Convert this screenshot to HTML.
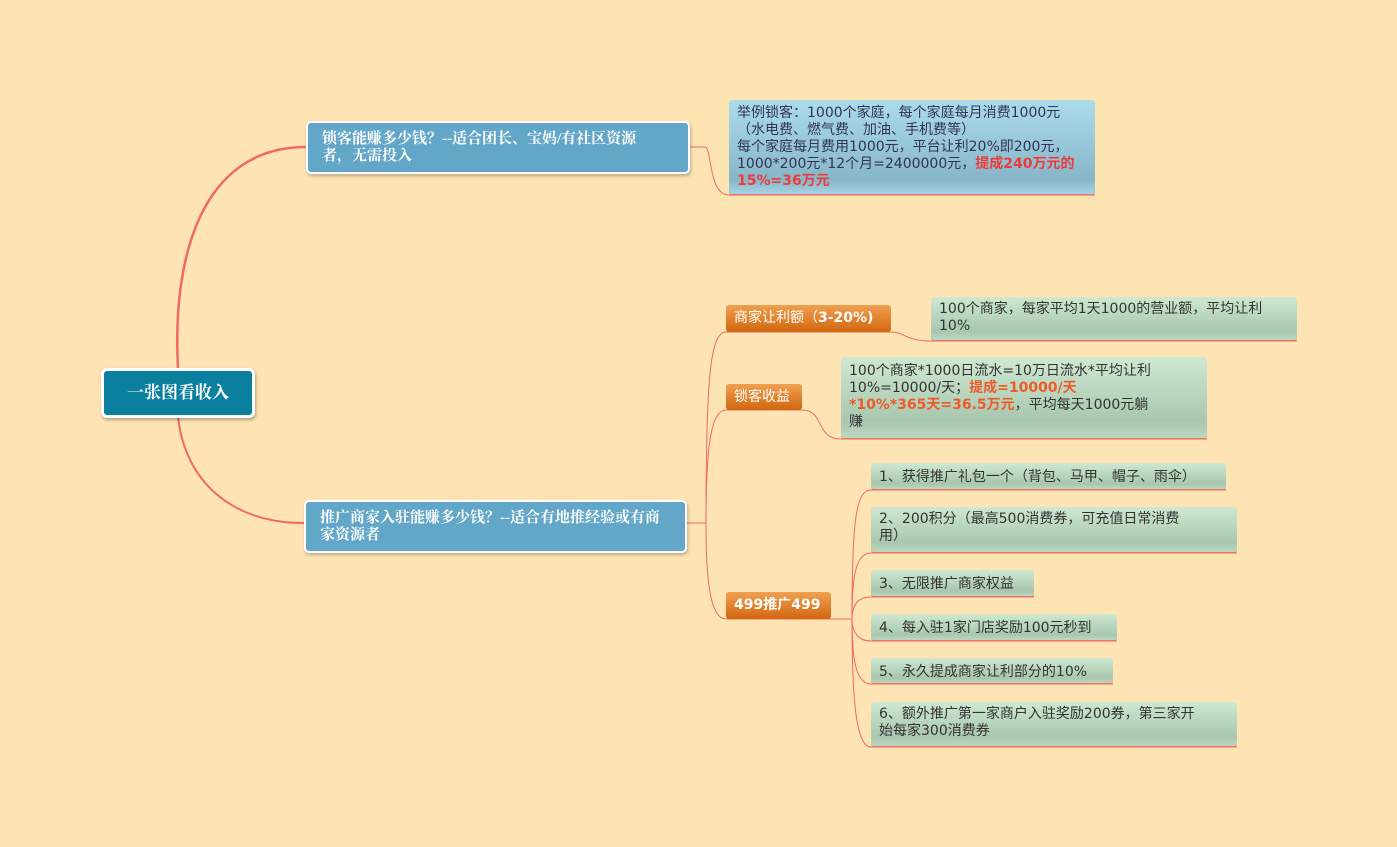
<!DOCTYPE html>
<html><head><meta charset="utf-8"><style>
body{margin:0;width:1397px;height:847px;background:#fee4b3;position:relative;overflow:hidden;font-family:"DejaVu Sans","Noto Sans CJK SC",sans-serif;}
.n{position:absolute;box-sizing:border-box;white-space:nowrap;overflow:hidden;}
.root{left:101px;top:368px;width:154px;height:50px;background:#0b7f9e;border:3px solid #fff;border-radius:6px;color:#fff;font-size:17px;font-weight:bold;text-align:center;line-height:44px;box-shadow:1px 2px 3px rgba(0,0,0,.3);font-family:"Liberation Serif","Noto Serif CJK SC",serif;}
.br{background:#62a6c8;border:2px solid #fff;border-radius:5px;color:#fff;font-size:15px;font-weight:bold;line-height:17px;padding:8px 14px;box-shadow:1px 2px 3px rgba(0,0,0,.25);font-family:"Liberation Serif","Noto Serif CJK SC",serif;}
.or{background:linear-gradient(#f0a050,#d2670f);color:#fff;font-size:14px;border-radius:3px;line-height:27px;padding:0 8px;}
.gr{background:linear-gradient(#cfe8d2,#a8c7ae 80%,#bcd8c0);color:#333;font-size:14px;line-height:17px;padding:4px 8px;border-radius:3px;border-bottom:1px solid #f0706a;}
.bl{background:linear-gradient(#acdcec,#86b6c8 85%,#a6d4e4);color:#335;font-size:14px;line-height:17px;padding:5px 8px;border-radius:3px;border-bottom:1px solid #f0706a;}
.red{color:#f03a3a;font-weight:bold;}
.ora{color:#ee5a2a;font-weight:bold;}
</style></head><body>
<svg width="1397" height="847" style="position:absolute;left:0;top:0" fill="none" stroke="#f06a60">
<path d="M178 368 C172 260 200 147 306 147" stroke-width="2.5"/>
<path d="M178 417 C185 480 230 523 304 523" stroke-width="2"/>
<path d="M690 147 L705 147 C712 147 708 195 729 195 L1095 195" stroke-width="1"/>
<path d="M687 523 L706 523" stroke-width="1"/>
<path d="M706 523 C706 380 710 332 726 332 L891 332 C905 332 905 341 931 341 L1297 341" stroke-width="1"/>
<path d="M706 523 C706 440 712 410 726 410 L802 410 C825 410 815 439 841 439 L1207 439" stroke-width="1"/>
<path d="M706 523 C706 580 710 619 726 619 L831 619 L852 619" stroke-width="1"/>
<path d="M852 619 C852 520 856 490 871 490 L1226 490" stroke-width="1"/>
<path d="M852 619 C852 575 856 553 871 553 L1237 553" stroke-width="1"/>
<path d="M852 619 C852 605 858 597 871 597 L1034 597" stroke-width="1"/>
<path d="M852 619 C852 632 858 641 871 641 L1117 641" stroke-width="1"/>
<path d="M852 619 C852 660 856 684 871 684 L1113 684" stroke-width="1"/>
<path d="M852 619 C852 700 856 747 871 747 L1237 747" stroke-width="1"/>
</svg>
<div class="n root">一张图看收入</div>
<div class="n br" style="left:306px;top:121px;width:384px;height:53px">锁客能赚多少钱？--适合团长、宝妈/有社区资源<br>者，无需投入</div>
<div class="n br" style="left:304px;top:500px;width:383px;height:53px">推广商家入驻能赚多少钱？--适合有地推经验或有商<br>家资源者</div>
<div class="n bl" style="left:729px;top:100px;width:366px;height:95px">举例锁客：1000个家庭，每个家庭每月消费1000元<br>（水电费、燃气费、加油、手机费等）<br>每个家庭每月费用1000元，平台让利20%即200元，<br>1000*200元*12个月=2400000元，<span class="red">提成240万元的<br>15%=36万元</span></div>
<div class="n or" style="left:726px;top:305px;width:165px;height:27px">商家让利额（<b>3-20%)</b></div>
<div class="n or" style="left:726px;top:384px;width:76px;height:26px">锁客收益</div>
<div class="n or" style="left:726px;top:592px;width:105px;height:27px;font-weight:bold">499推广499</div>
<div class="n gr" style="left:931px;top:297px;width:366px;height:44px">100个商家，每家平均1天1000的营业额，平均让利<br>10%</div>
<div class="n gr" style="left:841px;top:357px;width:366px;height:82px;padding-top:6px">100个商家*1000日流水=10万日流水*平均让利<br>10%=10000/天；<span class="ora">提成=10000/天<br>*10%*365天=36.5万元</span>，平均每天1000元躺<br>赚</div>
<div class="n gr" style="left:871px;top:463px;width:355px;height:27px;line-height:20px">1、获得推广礼包一个（背包、马甲、帽子、雨伞）</div>
<div class="n gr" style="left:871px;top:507px;width:366px;height:46px">2、200积分（最高500消费券，可充值日常消费<br>用）</div>
<div class="n gr" style="left:871px;top:570px;width:163px;height:27px;line-height:20px">3、无限推广商家权益</div>
<div class="n gr" style="left:871px;top:614px;width:246px;height:27px;line-height:20px">4、每入驻1家门店奖励100元秒到</div>
<div class="n gr" style="left:871px;top:658px;width:242px;height:26px;line-height:20px">5、永久提成商家让利部分的10%</div>
<div class="n gr" style="left:871px;top:702px;width:366px;height:45px">6、额外推广第一家商户入驻奖励200券，第三家开<br>始每家300消费券</div>
</body></html>
